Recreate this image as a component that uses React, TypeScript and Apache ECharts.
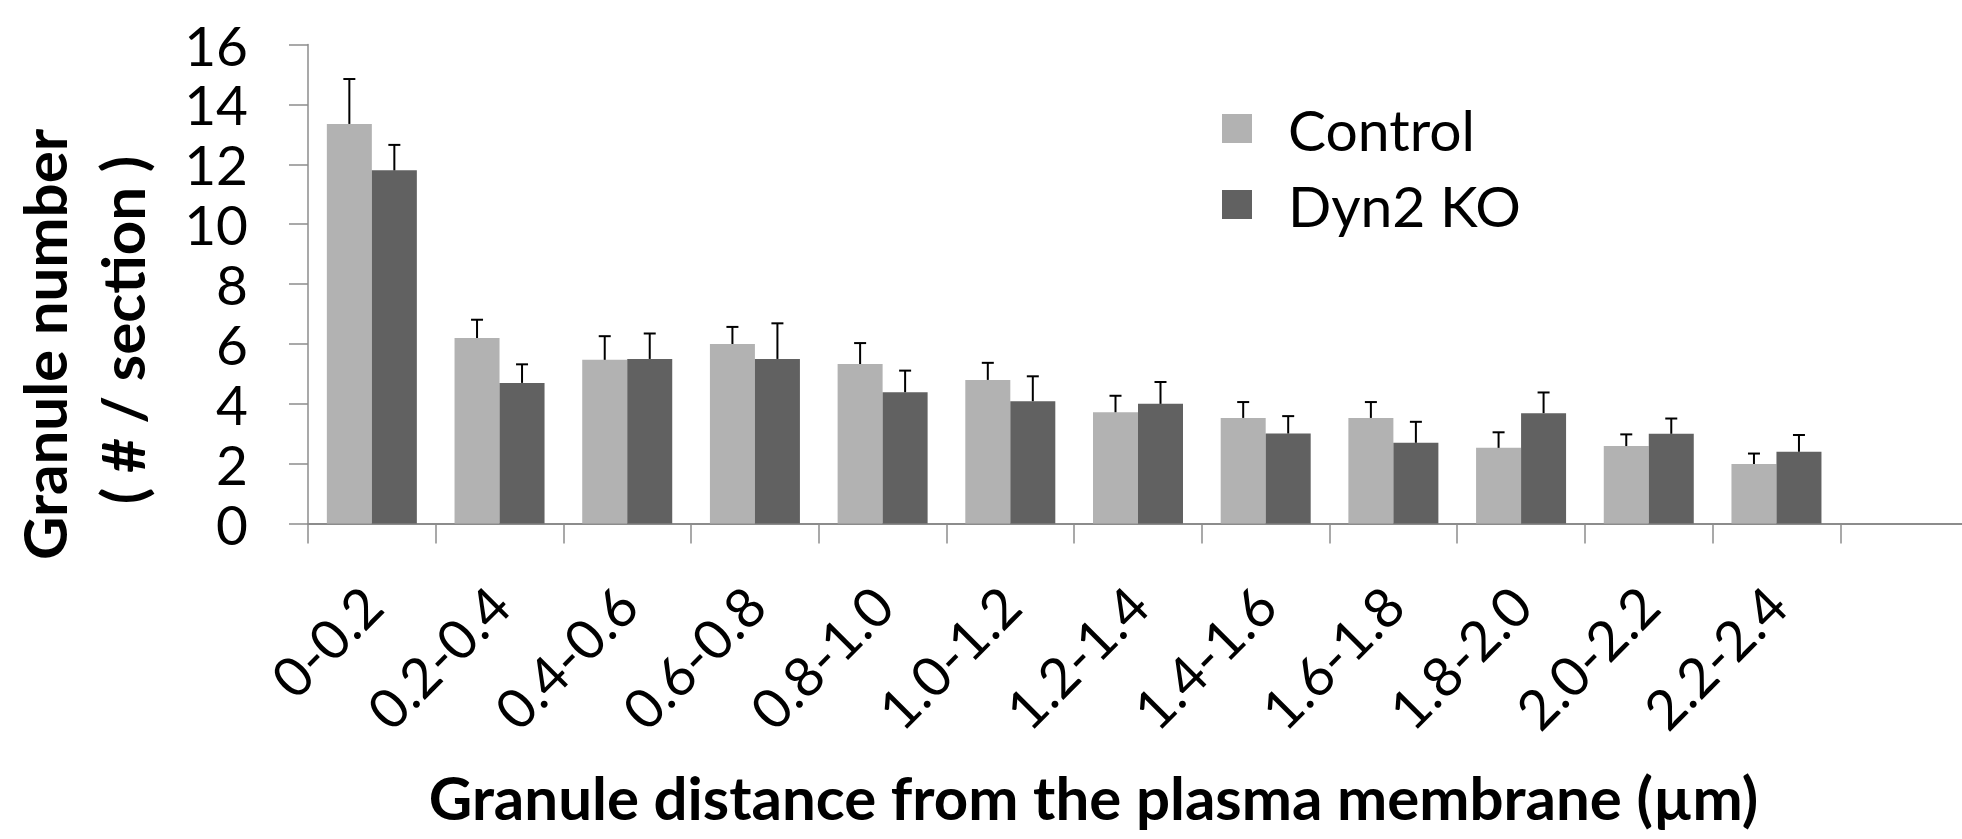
import React, { useEffect, useRef } from "react";
import * as echarts from "echarts";

const categories = ["0-0.2", "0.2-0.4", "0.4-0.6", "0.6-0.8", "0.8-1.0", "1.0-1.2", "1.2-1.4", "1.4-1.6", "1.6-1.8", "1.8-2.0", "2.0-2.2", "2.2-2.4"];
const controlValues = [13.35, 6.2, 5.47, 6.0, 5.33, 4.8, 3.72, 3.53, 3.53, 2.53, 2.59, 1.99];
const controlErrors = [1.5, 0.61, 0.79, 0.57, 0.7, 0.57, 0.55, 0.53, 0.53, 0.52, 0.39, 0.35];
const dynValues = [11.8, 4.7, 5.5, 5.5, 4.39, 4.09, 4.0, 3.01, 2.7, 3.69, 3.0, 2.4];
const dynErrors = [0.85, 0.62, 0.85, 1.19, 0.72, 0.83, 0.73, 0.58, 0.7, 0.69, 0.51, 0.56];
const yTicks = { min: 0, max: 16, interval: 2 };
const seriesNames = ["Control", "Dyn2 KO"];
const xTitle = "Granule distance from the plasma membrane (µm)";
const yTitle1 = "Granule number";
const yTitle2 = "( # / section )";

const FONT = "Lato";
const BAR_W = 45;
const AXIS_COLOR = "#8c8c8c";

function errorSeries(name: string, values: number[], errors: number[], offset: number) {
  return {
    type: "custom",
    name: name + " error",
    z: 10,
    silent: true,
    encode: { x: 0, y: 1 },
    data: values.map((v, i) => [i, v, errors[i]]),
    renderItem: (params: any, api: any) => {
      const idx = api.value(0);
      const v = api.value(1);
      const e = api.value(2);
      const p0 = api.coord([idx, v]);
      const p1 = api.coord([idx, v + e]);
      const cx = p0[0] + offset;
      return {
        type: "group",
        children: [
          { type: "line", shape: { x1: cx, y1: p0[1], x2: cx, y2: p1[1] }, style: { stroke: "#000", lineWidth: 2 } },
          { type: "line", shape: { x1: cx - 6, y1: p1[1], x2: cx + 6, y2: p1[1] }, style: { stroke: "#000", lineWidth: 2 } },
        ],
      };
    },
  };
}

export default function App() {
  const ref = useRef<HTMLDivElement>(null);
  useEffect(() => {
    if (!ref.current) return;
    const chart = echarts.init(ref.current, null, { renderer: "svg" });
    chart.setOption({
      animation: false,
      backgroundColor: "#ffffff",
      textStyle: { fontFamily: FONT },
      grid: { left: 308, right: -6, top: 44.6, bottom: 315.4, containLabel: false, outerBoundsMode: "none" },
      legend: {
        data: seriesNames,
        orient: "vertical",
        left: 1222,
        top: 100,
        padding: 0,
        itemWidth: 30,
        itemHeight: 29,
        itemGap: 19,
        icon: "rect",
        textStyle: { fontSize: 57, color: "#000", fontFamily: FONT, padding: [0, 0, 0, 31] },
      },
      xAxis: {
        type: "category",
        data: [...categories, ""],
        axisLine: { show: true, lineStyle: { color: AXIS_COLOR, width: 2 } },
        axisTick: { show: true, length: 20, interval: 0, lineStyle: { color: AXIS_COLOR, width: 1.5 } },
        axisLabel: { interval: 0, rotate: 45, margin: 72, fontSize: 55, color: "#000", fontFamily: FONT },
        splitLine: { show: false },
      },
      yAxis: {
        type: "value",
        min: yTicks.min,
        max: yTicks.max,
        interval: yTicks.interval,
        axisLine: { show: true, lineStyle: { color: AXIS_COLOR, width: 1.5 } },
        axisTick: { show: true, length: 19, lineStyle: { color: AXIS_COLOR, width: 1.5 } },
        axisLabel: { margin: 60, fontSize: 55, color: "#000", fontFamily: FONT },
        splitLine: { show: false },
      },
      series: [
        { type: "bar", name: seriesNames[0], data: controlValues, barWidth: BAR_W, barGap: "0%", itemStyle: { color: "#b2b2b2" } },
        { type: "bar", name: seriesNames[1], data: dynValues, barWidth: BAR_W, barGap: "0%", itemStyle: { color: "#616161" } },
        errorSeries(seriesNames[0], controlValues, controlErrors, -BAR_W / 2),
        errorSeries(seriesNames[1], dynValues, dynErrors, BAR_W / 2),
      ],
      graphic: [
        {
          type: "text",
          x: 44,
          y: 344.5,
          rotation: Math.PI / 2,
          style: { text: yTitle1, fontSize: 60, fontWeight: "bold", fontFamily: FONT, fill: "#000", align: "center", verticalAlign: "middle" },
        },
        {
          type: "text",
          x: 122,
          y: 330,
          rotation: Math.PI / 2,
          style: { text: yTitle2, fontSize: 60, fontWeight: "bold", fontFamily: FONT, fill: "#000", align: "center", verticalAlign: "middle" },
        },
        {
          type: "text",
          x: 1093.5,
          y: 797,
          style: { text: xTitle, fontSize: 60, fontWeight: "bold", fontFamily: FONT, fill: "#000", align: "center", verticalAlign: "middle" },
        },
      ],
    });
    return () => chart.dispose();
  }, []);
  return <div ref={ref} style={{ position: "absolute", left: 0, top: 0, width: 1962, height: 839 }} />;
}
